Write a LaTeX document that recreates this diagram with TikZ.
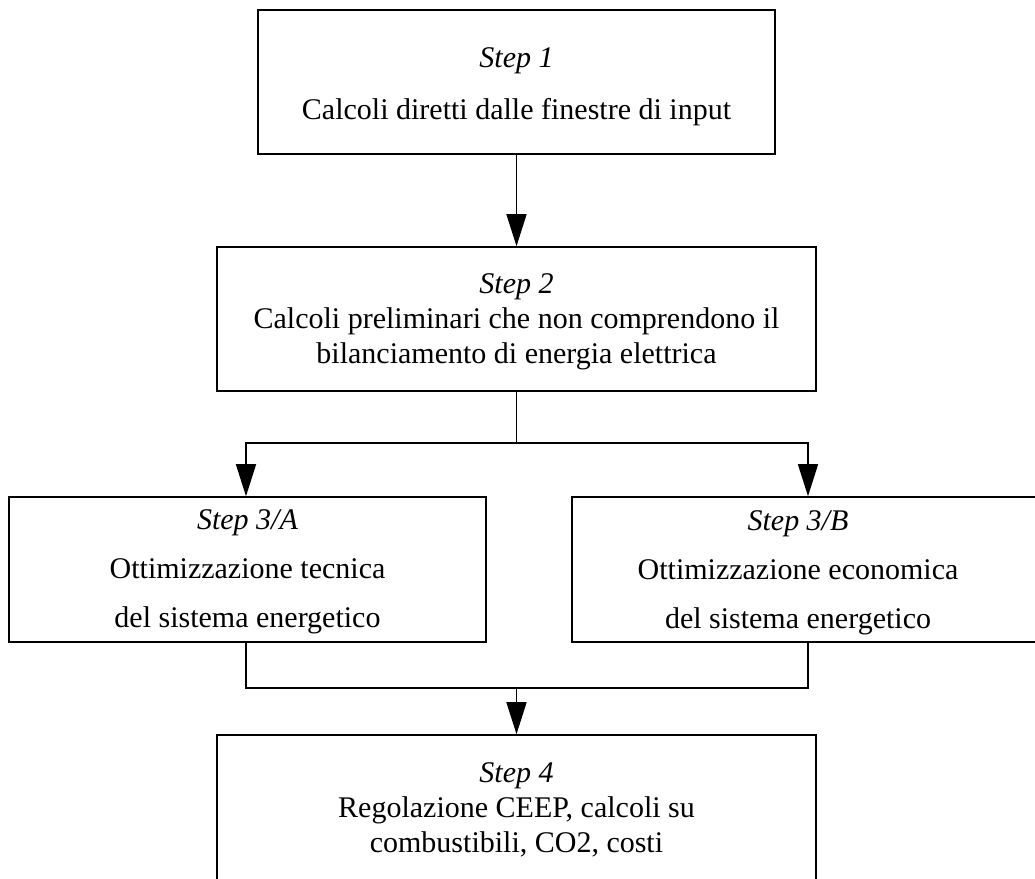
\documentclass[tikz,border=0pt]{standalone}
\usepackage{fontspec}
\setmainfont{Liberation Serif}
\usetikzlibrary{arrows.meta}

\tikzset{
  stepbox/.style={draw=black, line width=1.6pt, rectangle, inner sep=0pt,
    align=center, font=\fontsize{30}{35}\selectfont},
  link/.style={draw=black, line width=1.5pt},
  arr/.style={link, -{Triangle[width=20pt,length=32pt]}}
}
% top strut that lowers a box's text block by half its extra height
\newcommand{\toppad}[1]{\rule{0pt}{#1}}

\begin{document}
\begin{tikzpicture}[x=1pt, y=-1pt]
  \useasboundingbox (0,0) rectangle (1035,878);
  \clip (0,0) rectangle (1035,878);

  % process steps
  \node[stepbox, minimum width=517pt, minimum height=144pt] (s1) at (516.5,82)
    {\toppad{30pt}\textit{Step 1}\\[17pt]Calcoli diretti dalle finestre di input};
  \node[stepbox, minimum width=599pt, minimum height=144pt] (s2) at (516.5,319)
    {\toppad{26pt}\textit{Step 2}\\Calcoli preliminari che non comprendono il\\bilanciamento di energia elettrica};
  \node[stepbox, minimum width=477pt, minimum height=145pt] (s3a) at (247.5,569.5)
    {\toppad{24pt}\textit{Step 3/A}\\[14pt]Ottimizzazione tecnica\\[14pt]del sistema energetico};
  \node[stepbox, minimum width=468pt, minimum height=145pt] (s3b) at (806,569.5)
    {\begin{tabular}{@{}c@{}}\toppad{30.5pt}\textit{Step 3/B}\\[14pt]Ottimizzazione economica\\[14pt]del sistema energetico\end{tabular}\hspace*{16pt}};
  \node[stepbox, minimum width=599pt, minimum height=146pt] (s4) at (516.5,808)
    {\toppad{24pt}\textit{Step 4}\\Regolazione CEEP, calcoli su\\combustibili, CO2, costi};

  % routing points
  \coordinate (fork)  at (516.5,443);
  \coordinate (forkL) at (246,443);
  \coordinate (forkR) at (808,443);
  \coordinate (join)  at (516.5,688);
  \coordinate (joinL) at (246,688);
  \coordinate (joinR) at (808,688);

  % connectors
  \draw[arr] (s1.south) -- (s2.north);
  \draw[link] (s2.south) -- (fork);
  \draw[arr] (fork) -- (forkL) -- (forkL |- s3a.north);
  \draw[arr] (fork) -- (forkR) -- (forkR |- s3b.north);
  \draw[link] (s3a.south -| joinL) -- (joinL) -- (joinR) -- (s3b.south -| joinR);
  \draw[arr] (join) -- (s4.north);
\end{tikzpicture}
\end{document}
